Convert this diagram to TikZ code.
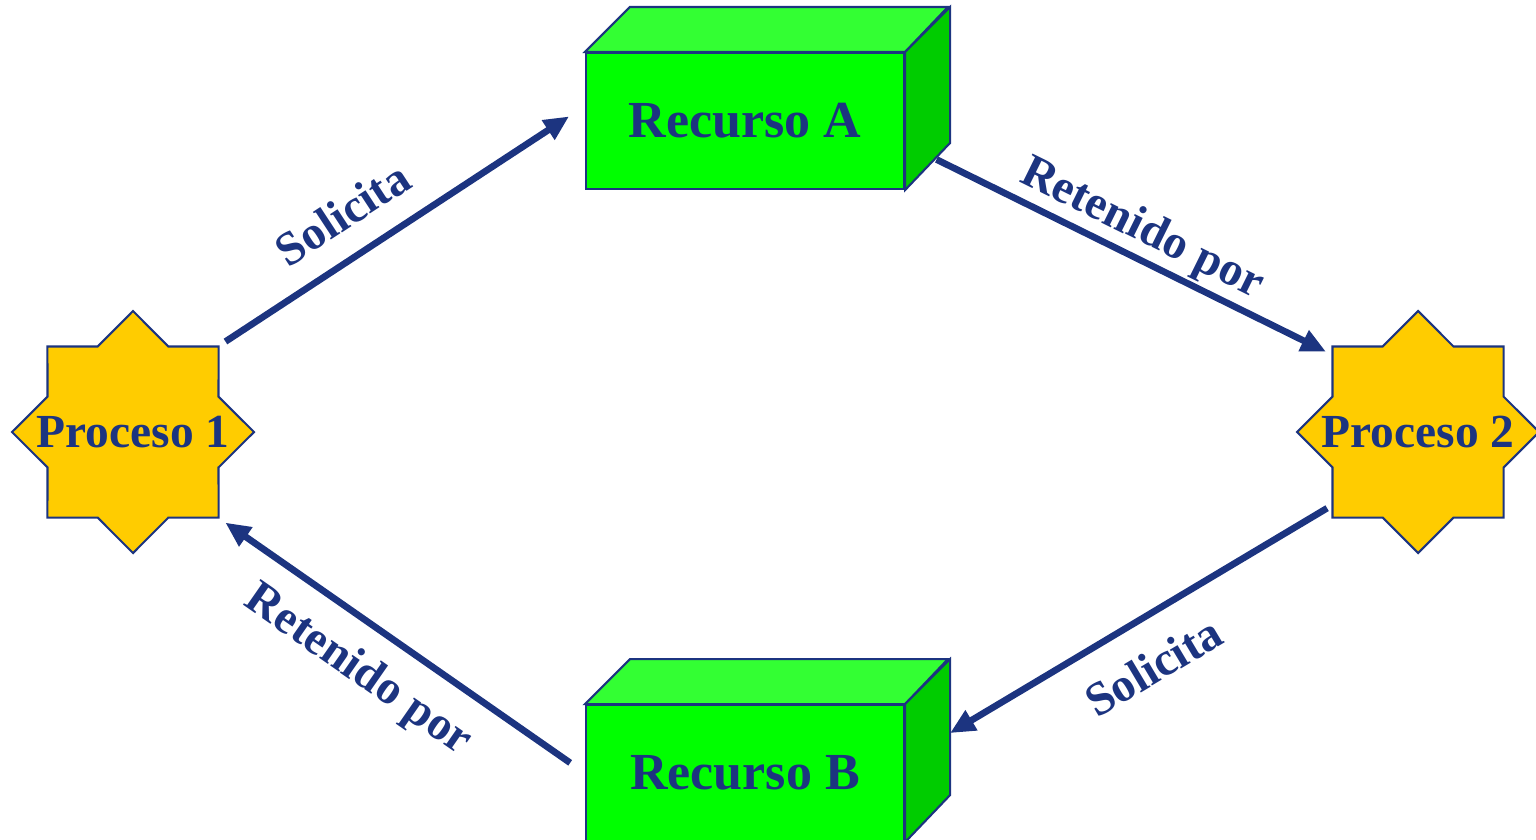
\documentclass[tikz,border=0pt]{standalone}
\usepackage{fontspec}
\setmainfont{Liberation Serif}
\usetikzlibrary{shapes.geometric, arrows.meta, positioning}

\definecolor{azul}{RGB}{28,52,128}
\definecolor{oro}{RGB}{255,204,0}
\definecolor{verde}{RGB}{0,255,0}
\definecolor{verdeclaro}{RGB}{51,255,51}
\definecolor{verdeoscuro}{RGB}{0,204,0}

\begin{document}
\begin{tikzpicture}[
    proceso/.style={star, star points=8, star point ratio=1.307, minimum size=2.42cm, inner sep=0pt, draw=azul, line width=0.6pt, fill=oro},
    nombre/.style={font=\fontsize{13.5}{16}\selectfont\bfseries, text=azul},
    recurso/.style={rectangle, draw=azul, line width=0.6pt, fill=verde, minimum width=3.18cm, minimum height=1.36cm, inner sep=0pt, font=\fontsize{14.8}{17}\selectfont\bfseries, text=azul},
    arrow/.style={line width=1.9pt, draw=azul, -{Triangle[length=0.25cm, width=0.22cm]}},
    etiqueta/.style={sloped, inner sep=0pt, font=\fontsize{13.5}{16}\selectfont\bfseries, text=azul}
]
\useasboundingbox (0,0) rectangle (15.36,8.39);

% procesos y recursos
\node (p1) [proceso, label={[nombre]center:Proceso 1}] at (1.33,4.07) {};
\node (p2) [proceso, label={[nombre]center:Proceso 2}, right=10.40cm of p1] {};
\node (ra) [recurso] at (7.45,7.18) {Recurso A};
\node (rb) [recurso, below=5.14cm of ra] {Recurso B};

% caras de las cajas
\foreach \r in {ra,rb} {
  \draw [azul, line width=0.6pt, fill=verdeclaro] (\r.north west) -- ++(0.45,0.45) -- ++(3.18,0) -- (\r.north east) -- cycle;
  \draw [azul, line width=0.6pt, fill=verdeoscuro] (\r.north east) -- ++(0.45,0.45) -- ++(0,-1.36) -- (\r.south east) -- cycle;
}

% flechas
\draw [arrow, shorten <=0.7mm, shorten >=1.9mm] (p1.outer point 8) -- node[etiqueta, above=2.3mm, pos=0.4] {Solicita} ([yshift=1.5mm]ra.west);
\draw [arrow, shorten <=1mm, shorten >=0.6mm] ([shift={(2.25mm,3.5mm)}]ra.south east) -- node[etiqueta, above=0.3mm, pos=0.5] {Retenido por} ([yshift=-0.9mm]p2.outer point 2);
\draw [arrow, shorten <=0.5mm] ([yshift=1.3mm]p2.outer point 4) -- node[etiqueta, below=2.7mm, pos=0.53] {Solicita} ([shift={(4.5mm,-2.9mm)}]rb.north east);
\draw [arrow, shorten <=1.8mm, shorten >=0.7mm] (rb.west) -- node[etiqueta, below=2.1mm, pos=0.55] {Retenido por} (p1.outer point 6);

\end{tikzpicture}
\end{document}
